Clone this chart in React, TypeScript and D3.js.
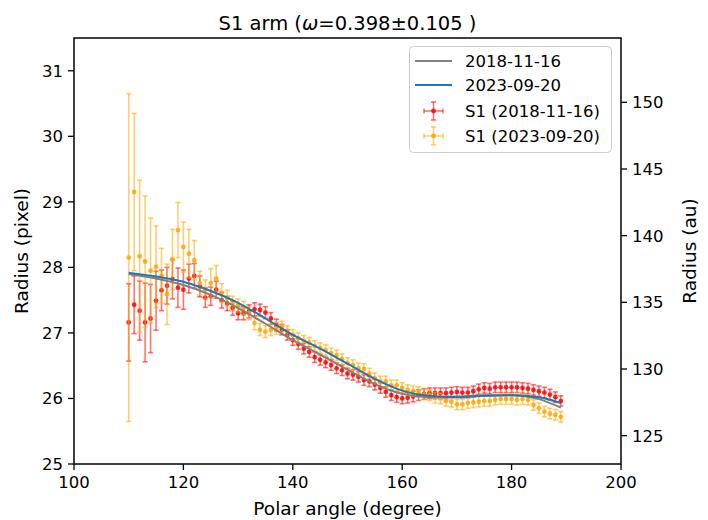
import * as d3 from "d3";

// polar angle of each measured point (degree)
const angles = [
  110, 111, 112, 113, 114, 115, 116, 117, 118, 119,
  120, 121, 122, 123, 124, 125, 126, 127, 128, 129,
  130, 131, 132, 133, 134, 135, 136, 137, 138, 139,
  140, 141, 142, 143, 144, 145, 146, 147, 148, 149,
  150, 151, 152, 153, 154, 155, 156, 157, 158, 159,
  160, 161, 162, 163, 164, 165, 166, 167, 168, 169,
  170, 171, 172, 173, 174, 175, 176, 177, 178, 179,
  180, 181, 182, 183, 184, 185, 186, 187, 188, 189,
];

// S1 (2018-11-16) radius in pixel and its error
const r2018 = [
  27.16, 27.43, 27.34, 27.16, 27.22, 27.49, 27.65, 27.72, 27.82, 27.69,
  27.66, 27.83, 27.87, 27.71, 27.54, 27.56, 27.66, 27.5, 27.45, 27.38,
  27.3, 27.3, 27.33, 27.36, 27.35, 27.31, 27.22, 27.12, 27.05, 26.97,
  26.89, 26.83, 26.76, 26.71, 26.63, 26.59, 26.55, 26.51, 26.46, 26.43,
  26.38, 26.36, 26.33, 26.28, 26.26, 26.21, 26.16, 26.1, 26.05, 26.02,
  26.0, 26.01, 26.03, 26.05, 26.07, 26.08, 26.08, 26.08, 26.08, 26.09,
  26.1, 26.09, 26.09, 26.11, 26.14, 26.16, 26.15, 26.17, 26.17, 26.17,
  26.17, 26.17, 26.16, 26.15, 26.13, 26.11, 26.09, 26.06, 26.02, 25.96,
];
const e2018 = [
  0.59, 0.44, 0.45, 0.6, 0.52, 0.45, 0.31, 0.28, 0.3, 0.3,
  0.3, 0.22, 0.19, 0.16, 0.15, 0.14, 0.13, 0.12, 0.11, 0.11,
  0.1, 0.1, 0.1, 0.1, 0.09, 0.09, 0.09, 0.09, 0.08, 0.08,
  0.08, 0.08, 0.08, 0.08, 0.08, 0.08, 0.08, 0.08, 0.08, 0.08,
  0.08, 0.08, 0.08, 0.08, 0.08, 0.08, 0.08, 0.08, 0.08, 0.08,
  0.08, 0.08, 0.08, 0.08, 0.08, 0.08, 0.08, 0.08, 0.08, 0.08,
  0.08, 0.08, 0.08, 0.08, 0.08, 0.08, 0.08, 0.08, 0.08, 0.08,
  0.08, 0.08, 0.08, 0.08, 0.08, 0.08, 0.08, 0.08, 0.08, 0.08,
];

// S1 (2023-09-20) radius in pixel and its error
const r2023 = [
  28.15, 29.15, 28.17, 28.09, 27.95, 28.01, 27.87, 27.59, 28.12, 28.57,
  28.31, 28.21, 28.11, 27.76, 27.66, 27.76, 27.83, 27.61, 27.53, 27.45,
  27.42, 27.38, 27.3, 27.15, 27.05, 27.02, 27.05, 27.07, 27.1, 27.03,
  26.97, 26.92, 26.88, 26.85, 26.8, 26.77, 26.74, 26.69, 26.66, 26.6,
  26.54, 26.51, 26.46, 26.45, 26.38, 26.31, 26.26, 26.26, 26.2, 26.2,
  26.16, 26.13, 26.11, 26.1, 26.06, 26.05, 26.01, 26.0, 25.96, 25.95,
  25.91, 25.91, 25.93, 25.94, 25.95, 25.96, 25.96, 25.98, 25.99, 25.99,
  25.99, 25.98, 25.99, 25.98, 25.9, 25.85, 25.8, 25.77, 25.75, 25.72,
];
const e2023 = [
  2.5, 1.2, 1.16, 1.0, 0.8, 0.62, 0.42, 0.46, 0.46, 0.42,
  0.38, 0.37, 0.3, 0.18, 0.15, 0.22, 0.2, 0.14, 0.12, 0.11,
  0.1, 0.1, 0.1, 0.1, 0.09, 0.09, 0.09, 0.09, 0.08, 0.08,
  0.08, 0.08, 0.08, 0.08, 0.08, 0.08, 0.08, 0.08, 0.08, 0.08,
  0.08, 0.08, 0.08, 0.08, 0.08, 0.08, 0.08, 0.08, 0.08, 0.08,
  0.08, 0.08, 0.08, 0.08, 0.08, 0.08, 0.08, 0.08, 0.08, 0.08,
  0.08, 0.08, 0.08, 0.08, 0.08, 0.08, 0.08, 0.08, 0.08, 0.08,
  0.08, 0.08, 0.08, 0.08, 0.08, 0.08, 0.08, 0.08, 0.08, 0.08,
];

// model curves, sampled along the arm
const curveAngles = [110, 115, 120, 125, 130, 135, 140, 145, 150, 155, 160, 165, 170, 175, 180, 185, 189];
const model2018 = [27.9, 27.83, 27.73, 27.58, 27.38, 27.14, 26.89, 26.67, 26.44, 26.22, 26.07, 26.02, 26.03, 26.05, 26.05, 25.99, 25.86];
const model2023 = [27.92, 27.86, 27.78, 27.64, 27.46, 27.22, 26.97, 26.76, 26.53, 26.3, 26.12, 26.04, 26.02, 26.04, 26.05, 26.02, 25.93];

const xTicks = [100, 120, 140, 160, 180, 200];
const yTicks = [25, 26, 27, 28, 29, 30, 31];
const auTicks = [125, 130, 135, 140, 145, 150];
const auPerPixel = 4.915;

const W = 708;
const H = 520;
const m = { left: 74, right: 87, top: 38, bottom: 56 };
const font = "DejaVu Sans";

const x = d3.scaleLinear().domain([100, 200]).range([m.left, W - m.right]);
const y = d3.scaleLinear().domain([25, 31.5]).range([H - m.bottom, m.top]);
const yAu = d3
  .scaleLinear()
  .domain([25 * auPerPixel, 31.5 * auPerPixel])
  .range([H - m.bottom, m.top]);

const line = d3
  .line<number>()
  .x((_, i) => x(curveAngles[i]))
  .y((d) => y(d))
  .curve(d3.curveMonotoneX);

const ErrorSeries = ({ values, errors, color }: { values: number[]; errors: number[]; color: string }) => (
  <g>
    {values.map((v, i) => {
      const cx = x(angles[i]);
      const top = y(v + errors[i]);
      const bot = y(v - errors[i]);
      return (
        <g key={i} stroke={color} strokeOpacity={0.55} strokeWidth={1.6}>
          <line x1={cx} x2={cx} y1={top} y2={bot} />
          <line x1={cx - 2.6} x2={cx + 2.6} y1={top} y2={top} />
          <line x1={cx - 2.6} x2={cx + 2.6} y1={bot} y2={bot} />
        </g>
      );
    })}
    {values.map((v, i) => (
      <circle key={"p" + i} cx={x(angles[i])} cy={y(v)} r={2.4} fill={color} fillOpacity={0.85} />
    ))}
  </g>
);

const LegendErr = ({ cx, cy, color }: { cx: number; cy: number; color: string }) => (
  <g stroke={color} strokeOpacity={0.55} strokeWidth={1.6}>
    <line x1={cx} x2={cx} y1={cy - 9} y2={cy + 9} />
    <line x1={cx - 9.5} x2={cx + 9.5} y1={cy} y2={cy} />
    <line x1={cx - 2.6} x2={cx + 2.6} y1={cy - 9} y2={cy - 9} />
    <line x1={cx - 2.6} x2={cx + 2.6} y1={cy + 9} y2={cy + 9} />
    <line x1={cx - 9.5} x2={cx - 9.5} y1={cy - 2.6} y2={cy + 2.6} />
    <line x1={cx + 9.5} x2={cx + 9.5} y1={cy - 2.6} y2={cy + 2.6} />
    <circle cx={cx} cy={cy} r={2.4} fill={color} fillOpacity={0.85} stroke="none" />
  </g>
);

export default function App() {
  const x0 = m.left;
  const x1 = W - m.right;
  const y0 = H - m.bottom;
  const y1 = m.top;
  const fs = 16.5;
  const labelFs = 18.5;

  return (
    <svg width={W} height={H} style={{ position: "absolute", left: 0, top: 0, background: "#fff" }} fontFamily={font}>
      <ErrorSeries values={r2018} errors={e2018} color="red" />
      <ErrorSeries values={r2023} errors={e2023} color="orange" />
      <path d={line(model2018) ?? ""} fill="none" stroke="gray" strokeWidth={2} />
      <path d={line(model2023) ?? ""} fill="none" stroke="#1f77b4" strokeWidth={2} />

      <rect x={x0} y={y1} width={x1 - x0} height={y0 - y1} fill="none" stroke="#000" strokeWidth={1.5} />

      {xTicks.map((t) => (
        <g key={t}>
          <line x1={x(t)} x2={x(t)} y1={y0} y2={y0 + 6} stroke="#000" strokeWidth={1.3} />
          <text x={x(t)} y={y0 + 24} textAnchor="middle" fontSize={fs}>
            {t}
          </text>
        </g>
      ))}
      {yTicks.map((t) => (
        <g key={t}>
          <line x1={x0 - 6} x2={x0} y1={y(t)} y2={y(t)} stroke="#000" strokeWidth={1.3} />
          <text x={x0 - 11} y={y(t)} dy="0.36em" textAnchor="end" fontSize={fs}>
            {t}
          </text>
        </g>
      ))}
      {auTicks.map((t) => (
        <g key={t}>
          <line x1={x1} x2={x1 + 6} y1={yAu(t)} y2={yAu(t)} stroke="#000" strokeWidth={1.3} />
          <text x={x1 + 11} y={yAu(t)} dy="0.36em" textAnchor="start" fontSize={fs}>
            {t}
          </text>
        </g>
      ))}

      <text x={(x0 + x1) / 2} y={H - 5} textAnchor="middle" fontSize={labelFs}>
        Polar angle (degree)
      </text>
      <text transform={`translate(${21},${(y0 + y1) / 2}) rotate(-90)`} textAnchor="middle" dy="0.36em" fontSize={labelFs}>
        Radius (pixel)
      </text>
      <text transform={`translate(${689},${(y0 + y1) / 2}) rotate(-90)`} textAnchor="middle" dy="0.36em" fontSize={labelFs}>
        Radius (au)
      </text>
      <text x={(x0 + x1) / 2} y={30} textAnchor="middle" fontSize={19.5}>
        S1 arm (<tspan fontStyle="italic">ω</tspan>=0.398±0.105 )
      </text>

      <g>
        <rect x={409.5} y={46.5} width={202} height={106} rx={4} fill="#fff" fillOpacity={0.8} stroke="#cccccc" strokeWidth={1} />
        <line x1={415} x2={452} y1={61} y2={61} stroke="gray" strokeWidth={2} />
        <text x={465} y={61} dy="0.36em" fontSize={fs}>2018-11-16</text>
        <line x1={415} x2={452} y1={85} y2={85} stroke="#1f77b4" strokeWidth={2} />
        <text x={465} y={85} dy="0.36em" fontSize={fs}>2023-09-20</text>
        <LegendErr cx={433.5} cy={111} color="red" />
        <text x={465} y={111} dy="0.36em" fontSize={fs}>S1 (2018-11-16)</text>
        <LegendErr cx={433.5} cy={136} color="orange" />
        <text x={465} y={136} dy="0.36em" fontSize={fs}>S1 (2023-09-20)</text>
      </g>
    </svg>
  );
}
